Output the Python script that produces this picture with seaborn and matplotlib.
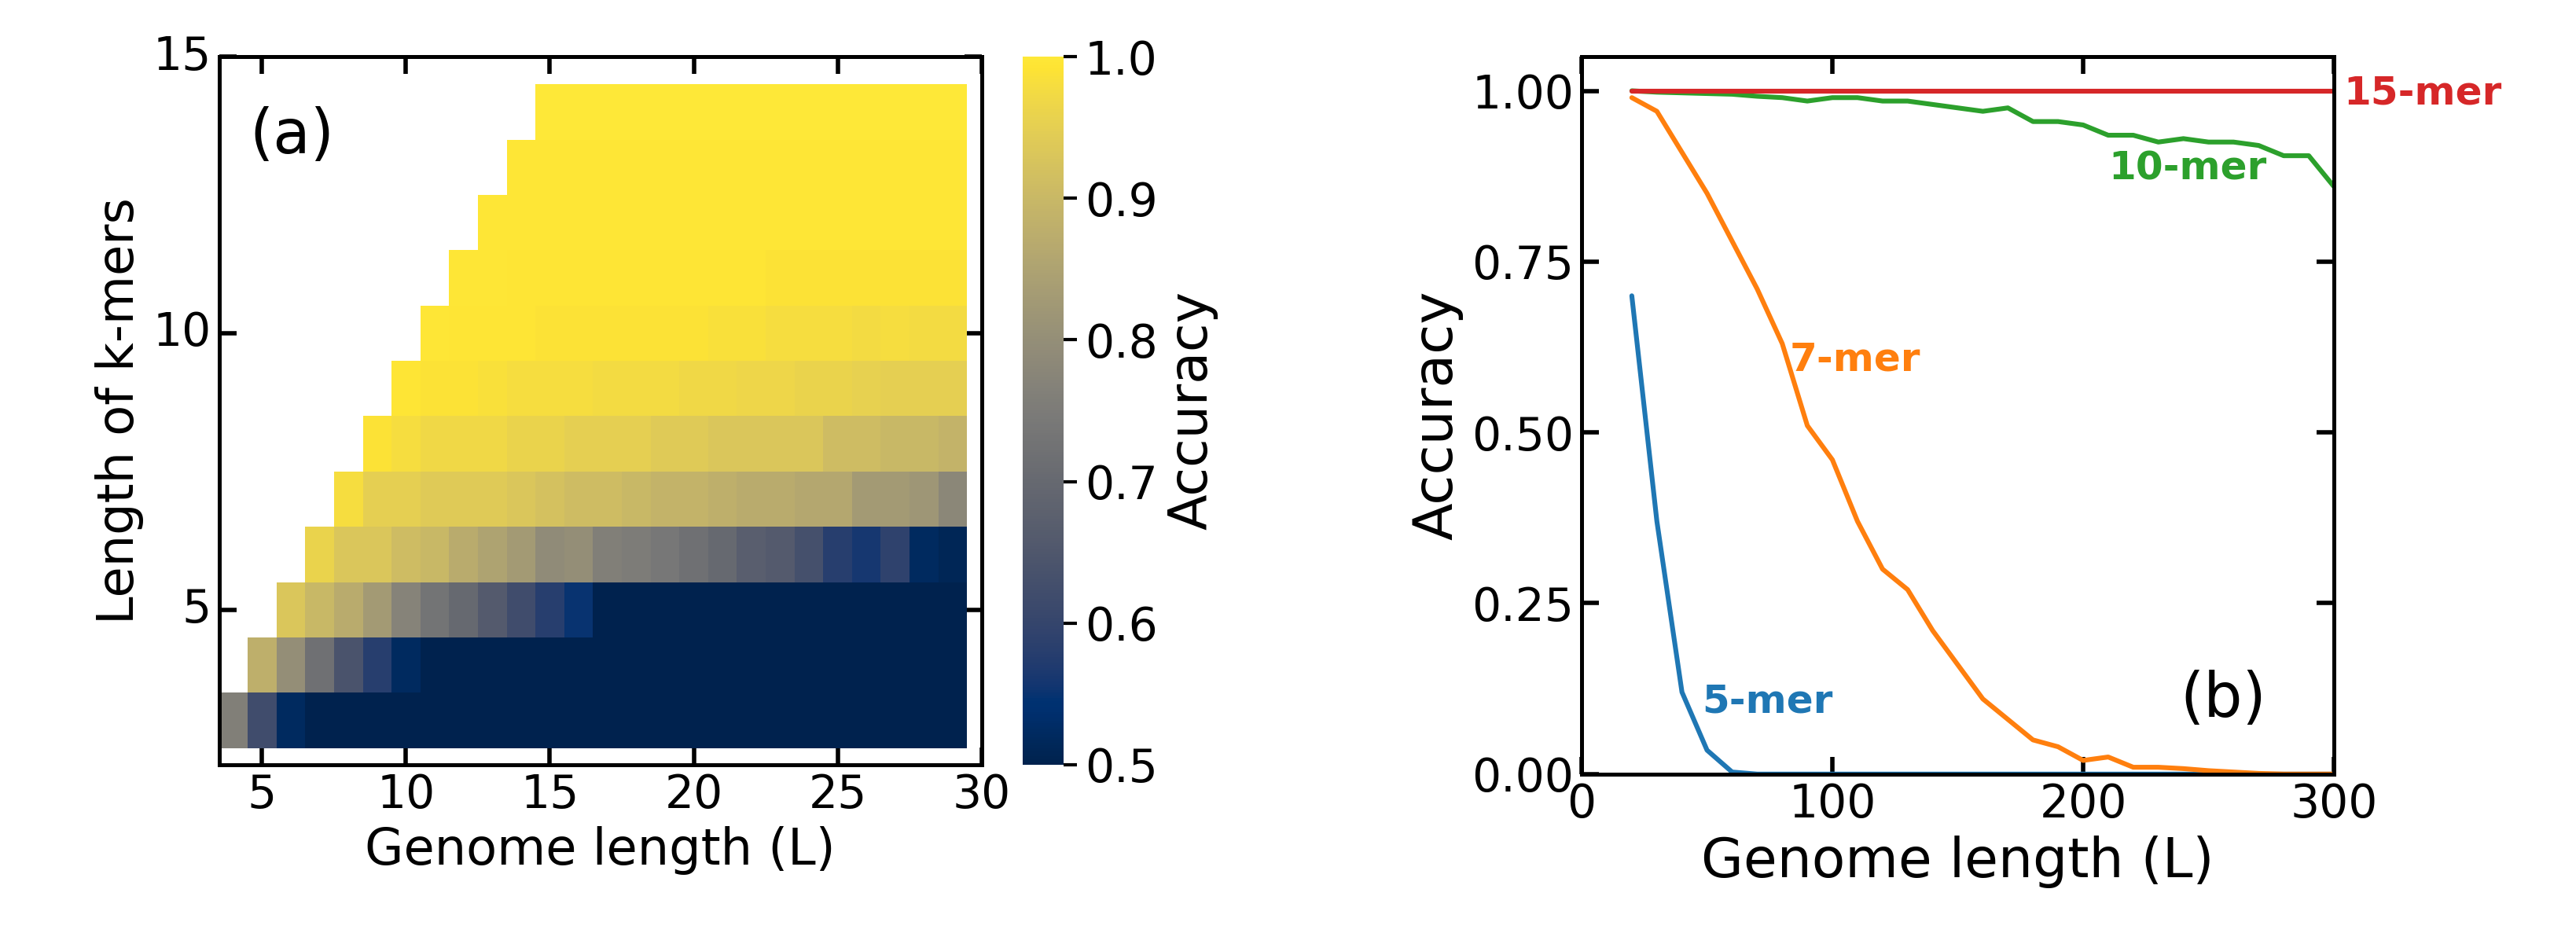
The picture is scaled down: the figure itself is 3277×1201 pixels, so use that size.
import numpy as np
import pandas as pd
import matplotlib
matplotlib.use('Agg')
import matplotlib.pyplot as plt
import seaborn as sns

# Heatmap data: accuracy per k-mer length (rows) and genome length (columns)
genome_lengths = list(range(4, 30))
kmer_lengths = list(range(3, 15))
rows = {
    3: [0.76, 0.62, 0.52] + [0.5] * 23,
    4: [0.88, 0.80, 0.72, 0.64, 0.58, 0.52] + [0.5] * 19,
    5: [0.93, 0.90, 0.87, 0.83, 0.77, 0.73, 0.70, 0.66, 0.62, 0.58, 0.55] + [0.5] * 13,
    6: [0.96, 0.93, 0.93, 0.91, 0.90, 0.87, 0.85, 0.83, 0.79, 0.80, 0.76, 0.75, 0.74,
        0.72, 0.70, 0.67, 0.66, 0.63, 0.58, 0.56, 0.59, 0.52, 0.51],
    7: [0.98, 0.95, 0.95, 0.94, 0.94, 0.94, 0.93, 0.92, 0.91, 0.91, 0.90, 0.89, 0.89,
        0.88, 0.87, 0.87, 0.86, 0.86, 0.83, 0.83, 0.82, 0.78],
    8: [0.99, 0.98, 0.97, 0.97, 0.97, 0.96, 0.96, 0.95, 0.95, 0.95, 0.94, 0.94, 0.93,
        0.93, 0.93, 0.93, 0.91, 0.91, 0.90, 0.90, 0.89],
    9: [0.995, 0.99, 0.99, 0.985, 0.98, 0.98, 0.98, 0.975, 0.975, 0.975, 0.97, 0.97,
        0.965, 0.965, 0.96, 0.96, 0.955, 0.95, 0.95, 0.95],
    10: [0.997, 0.995, 0.995, 0.995, 0.99, 0.99, 0.99, 0.99, 0.99, 0.99, 0.985, 0.985,
         0.98, 0.98, 0.98, 0.975, 0.98, 0.975, 0.975],
    11: [0.998, 0.997, 0.995, 0.995, 0.995, 0.995, 0.995, 0.995, 0.995, 0.995, 0.995,
         0.99, 0.99, 0.99, 0.99, 0.99, 0.99, 0.99],
    12: [0.998] * 17,
    13: [0.998] * 16,
    14: [0.999] * 15,
}

# Line data: accuracy vs genome length for each k-mer
L_line = list(range(20, 310, 10))
acc_5 = [0.70, 0.37, 0.12, 0.035, 0.003] + [0.0] * 24
acc_7 = [0.99, 0.97, 0.91, 0.85, 0.78, 0.71, 0.63, 0.51, 0.46, 0.37, 0.30, 0.27, 0.21,
         0.16, 0.11, 0.08, 0.05, 0.04, 0.02, 0.025, 0.01, 0.01, 0.008, 0.005, 0.003,
         0.001, 0.0, 0.0, 0.0]
acc_10 = [1.0, 0.998, 0.997, 0.996, 0.995, 0.992, 0.99, 0.985, 0.99, 0.99, 0.985, 0.985,
          0.98, 0.975, 0.97, 0.975, 0.955, 0.955, 0.95, 0.935, 0.935, 0.925, 0.93, 0.925,
          0.925, 0.92, 0.905, 0.905, 0.86]
acc_15 = [1.0] * 29

sns.set_style('ticks')
plt.rcParams['font.family'] = ['DejaVu Sans']
plt.rcParams['font.size'] = 21
for key in ['text.color', 'axes.labelcolor', 'xtick.color', 'ytick.color', 'axes.edgecolor']:
    plt.rcParams[key] = 'black'

grid = np.full((len(kmer_lengths), len(genome_lengths)), np.nan)
for k, vals in rows.items():
    grid[k - 3, len(genome_lengths) - len(vals):] = vals
df = pd.DataFrame(grid, index=kmer_lengths, columns=genome_lengths)

fig = plt.figure(figsize=(16.385, 6.005), dpi=200)
ax1 = fig.add_axes([0.085, 0.19, 0.296, 0.75])
cax = fig.add_axes([0.397, 0.19, 0.016, 0.75])
ax2 = fig.add_axes([0.614, 0.18, 0.292, 0.76])

sns.heatmap(df, ax=ax1, cmap='cividis', vmin=0.5, vmax=1.0, cbar_ax=cax,
            cbar_kws={'label': 'Accuracy'})
ax1.set_xlim(0, 26.5)
ax1.set_ylim(-0.3, 12.5)
ax1.set_xticks([t - 4 + 0.5 for t in [5, 10, 15, 20, 25, 30]])
ax1.set_xticklabels(['5', '10', '15', '20', '25', '30'], rotation=0)
ax1.set_yticks([t - 3 + 0.5 for t in [5, 10, 15]])
ax1.set_yticklabels(['5', '10', '15'], rotation=0)
ax1.set_xlabel('Genome length (L)', fontsize=23)
ax1.set_ylabel('Length of k-mers', fontsize=23)
for s in ax1.spines.values():
    s.set_visible(True)
    s.set_linewidth(1.8)
ax1.tick_params(direction='in', length=8, width=2, top=True, right=True, labelsize=21)
ax1.text(0.04, 0.93, '(a)', transform=ax1.transAxes, fontsize=28, va='top')
cax.tick_params(labelsize=21, width=1.5, length=6)
cax.yaxis.label.set_size(24)
cax.set_yticks([0.5, 0.6, 0.7, 0.8, 0.9, 1.0])

series = [('5-mer', acc_5, '#1f77b4'), ('7-mer', acc_7, '#ff7f0e'),
          ('10-mer', acc_10, '#2ca02c'), ('15-mer', acc_15, '#d62728')]
for name, vals, col in series:
    sns.lineplot(x=L_line, y=vals, ax=ax2, color=col, linewidth=2.2)
ax2.set_xlim(0, 300)
ax2.set_ylim(0, 1.05)
ax2.set_xticks([0, 100, 200, 300])
ax2.set_yticks([0, 0.25, 0.5, 0.75, 1.0])
ax2.set_yticklabels(['0.00', '0.25', '0.50', '0.75', '1.00'])
ax2.tick_params(direction='in', length=8, width=2, top=True, right=True, labelsize=21)
for s in ax2.spines.values():
    s.set_linewidth(1.8)
ax2.set_xlabel('Genome length (L)', fontsize=25)
ax2.set_ylabel('Accuracy', fontsize=25)
ax2.text(48, 0.09, '5-mer', color='#1f77b4', fontsize=18, fontweight='bold')
ax2.text(83, 0.59, '7-mer', color='#ff7f0e', fontsize=18, fontweight='bold')
ax2.text(210, 0.87, '10-mer', color='#2ca02c', fontsize=18, fontweight='bold')
ax2.text(304, 0.98, '15-mer', color='#d62728', fontsize=18, fontweight='bold', clip_on=False)
ax2.text(0.91, 0.08, '(b)', transform=ax2.transAxes, fontsize=28, ha='right')

fig.savefig('out.png', dpi=200)
